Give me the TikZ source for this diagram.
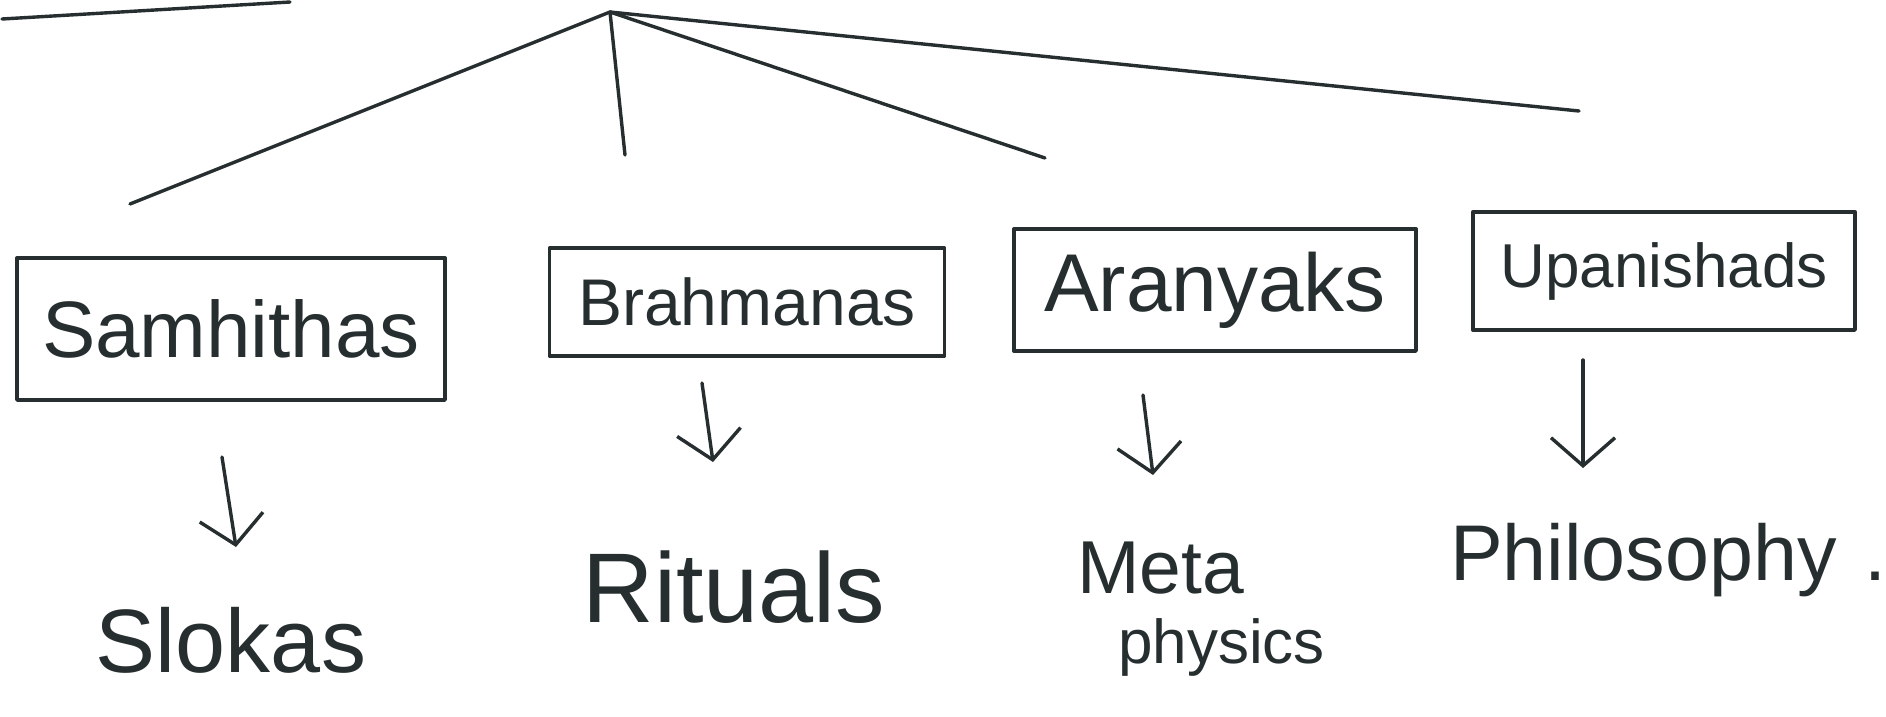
\documentclass[tikz,border=0pt]{standalone}
\usepackage{fontspec}
\setmainfont{Liberation Sans}
\usetikzlibrary{arrows.meta}
\definecolor{ink}{RGB}{38,46,48}
\begin{document}
\begin{tikzpicture}[x=1pt,y=-1pt,
  inkline/.style={draw=ink, line width=3.4pt, line cap=round, line join=round},
  bigbox/.style={inkline, rectangle, inner sep=0pt, text=ink},
  lbl/.style={text=ink, inner sep=0pt},
  harr/.style={inkline, -{Straight Barb[length=28pt,width=64pt,line width=3.4pt]}},
]
\useasboundingbox[fill=white] (0,0) rectangle (1886,716);

% cut-off title underline
\coordinate (u1) at (2,19);
\coordinate (u2) at (290,2);
\draw[inkline] (u1) -- (u2);

% tree
\coordinate (apex) at (610,12);
\coordinate (t1) at (130,204);
\coordinate (t2) at (625,155);
\coordinate (t3) at (1045,158);
\coordinate (t4) at (1579,111);
\draw[inkline] (apex) -- (t1);
\draw[inkline] (apex) -- (t2);
\draw[inkline] (apex) -- (t3);
\draw[inkline] (apex) -- (t4);

% boxes
\node[bigbox, minimum width=428pt, minimum height=142pt, font=\fontsize{80}{90}\selectfont] (sam) at (231,329) {Samhithas};
\node[bigbox, minimum width=395pt, minimum height=108pt, font=\fontsize{66}{75}\selectfont] (bra) at (747,302) {Brahmanas};
\node[bigbox, minimum width=402pt, minimum height=122pt, font=\fontsize{82}{92}\selectfont] (ara) at (1215,290) {Aranyaks};
\node[bigbox, minimum width=382pt, minimum height=118pt, font=\fontsize{62}{71}\selectfont] (upa) at (1664,271) {Upanishads};

% labels
\node[lbl, anchor=base, font=\fontsize{90}{100}\selectfont] (slo) at (231,672) {Slokas};
\node[lbl, anchor=base, font=\fontsize{99}{110}\selectfont] (rit) at (734,622) {Rituals};
\node[lbl, anchor=north west, align=left, font=\fontsize{70}{70}\selectfont] (met) at (1077,542)
  {{\fontsize{75}{70}\selectfont Meta}\\\hspace*{41pt}{\fontsize{62}{70}\selectfont physics}};
\node[lbl, anchor=base west, font=\fontsize{79}{90}\selectfont] (phi) at (1450,580) {Philosophy\hspace{0.35em}.};

% arrows
\coordinate (s1) at (222,457); \coordinate (e1) at (236,547);
\coordinate (s2) at (702,383); \coordinate (e2) at (713,462);
\coordinate (s3) at (1143,395); \coordinate (e3) at (1153,475);
\coordinate (s4) at (1583,360); \coordinate (e4) at (1583,468);
\draw[harr] (s1) -- (e1);
\draw[harr] (s2) -- (e2);
\draw[harr] (s3) -- (e3);
\draw[harr] (s4) -- (e4);
\end{tikzpicture}
\end{document}
